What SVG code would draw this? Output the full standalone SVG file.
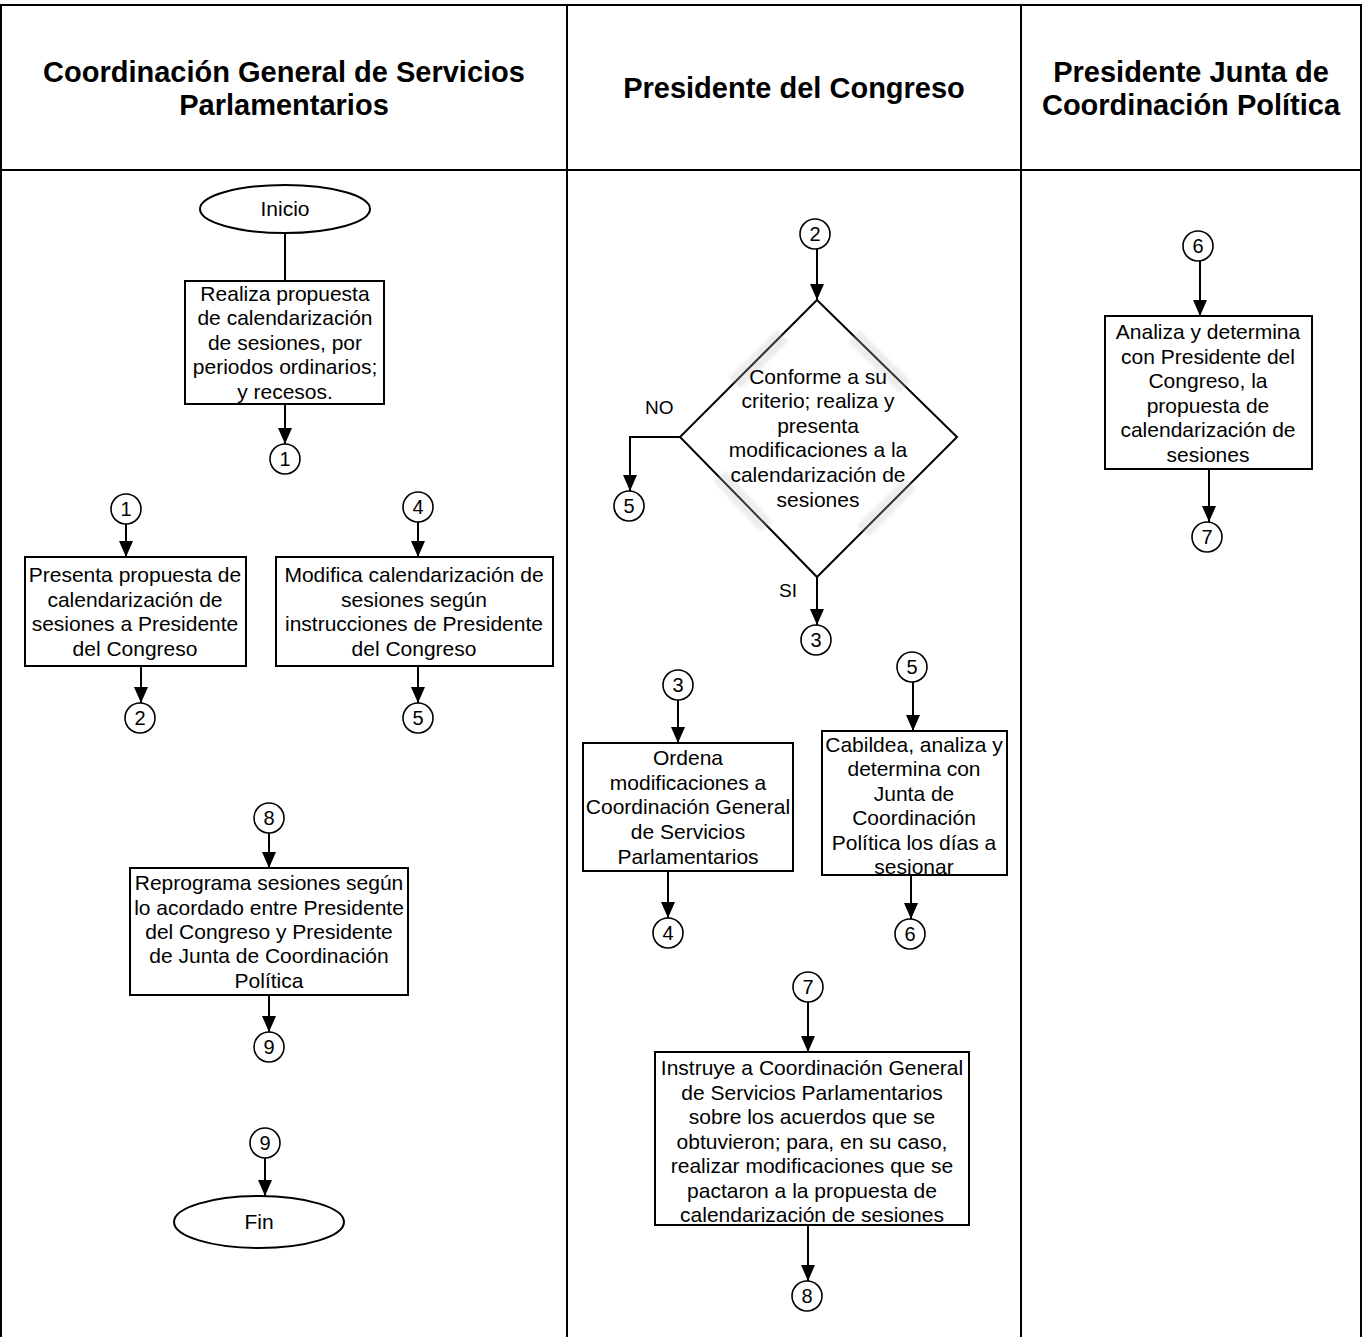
<svg xmlns="http://www.w3.org/2000/svg" width="1362" height="1337" viewBox="0 0 1362 1337">
<defs>
<marker id="arr" viewBox="0 0 16 14" refX="16" refY="7" markerWidth="16" markerHeight="14" markerUnits="userSpaceOnUse" orient="auto">
<path d="M0,0 L16,7 L0,14 z" fill="#000"/>
</marker>
<filter id="fuzz" x="-20%" y="-20%" width="140%" height="140%">
<feGaussianBlur stdDeviation="1.6"/>
</filter>
<clipPath id="cabClip"><rect x="822" y="731" width="185" height="144"/></clipPath>
<style>
.frame{fill:none;stroke:#000;stroke-width:2}
.box{fill:#fff;stroke:#000;stroke-width:2}
.conn{fill:#fff;stroke:#000;stroke-width:1.6}
.edge{fill:none;stroke:#000;stroke-width:2}
.arrow{fill:none;stroke:#000;stroke-width:2;marker-end:url(#arr)}
.hdr{font-family:"Liberation Sans",Arial,sans-serif;font-size:29px;font-weight:bold;text-anchor:middle;fill:#000}
.t{font-family:"Liberation Sans",Arial,sans-serif;font-size:21px;text-anchor:middle;fill:#000}
.n{font-family:"Liberation Sans",Arial,sans-serif;font-size:20px;text-anchor:middle;fill:#000}
.lbl{font-family:"Liberation Sans",Arial,sans-serif;font-size:19px;fill:#000}
.fz{stroke:#bdbdbd;stroke-width:16;stroke-dasharray:2 2;fill:none;opacity:0.55;filter:url(#fuzz)}
</style>
</defs>

<g id="frame">
<rect x="0" y="0" width="1362" height="1337" fill="#fff"/>
<path class="frame" d="M1,1337 V5 H1361 V1337 M567,5 V1337 M1021,5 V1337 M1,170 H1361"/>
</g>

<g id="headers">
<text class="hdr" x="284" y="82">Coordinación General de Servicios</text>
<text class="hdr" x="284" y="115">Parlamentarios</text>
<text class="hdr" x="794" y="98">Presidente del Congreso</text>
<text class="hdr" x="1191" y="82">Presidente Junta de</text>
<text class="hdr" x="1191" y="115">Coordinación Política</text>
</g>

<g id="connectors">
<line class="edge" x1="285" y1="233" x2="285" y2="281"/>
<line class="arrow" x1="285" y1="404" x2="285" y2="444"/>
<line class="arrow" x1="126" y1="524" x2="126" y2="557"/>
<line class="arrow" x1="141" y1="666" x2="141" y2="703"/>
<line class="arrow" x1="418" y1="522" x2="418" y2="557"/>
<line class="arrow" x1="418" y1="666" x2="418" y2="703"/>
<line class="arrow" x1="269" y1="833" x2="269" y2="868"/>
<line class="arrow" x1="269" y1="995" x2="269" y2="1032"/>
<line class="arrow" x1="265" y1="1158" x2="265" y2="1196"/>
<line class="arrow" x1="817" y1="249" x2="817" y2="300"/>
<polyline class="arrow" points="680,437 630,437 630,491"/>
<line class="arrow" x1="817" y1="577" x2="817" y2="625"/>
<line class="arrow" x1="678" y1="700" x2="678" y2="743"/>
<line class="arrow" x1="668" y1="871" x2="668" y2="918"/>
<line class="arrow" x1="913" y1="682" x2="913" y2="731"/>
<line class="arrow" x1="911" y1="875" x2="911" y2="919"/>
<line class="arrow" x1="808" y1="1002" x2="808" y2="1052"/>
<line class="arrow" x1="808" y1="1225" x2="808" y2="1281"/>
<line class="arrow" x1="1200" y1="261" x2="1200" y2="316"/>
<line class="arrow" x1="1209" y1="469" x2="1209" y2="522"/>
<text class="lbl" x="645" y="414">NO</text>
<text class="lbl" x="779" y="597">SI</text>
</g>

<g id="inicio">
<ellipse class="box" cx="285" cy="209" rx="85" ry="24"/>
<text class="t" x="285" y="216">Inicio</text>
</g>

<g id="realiza">
<rect class="box" x="185" y="281" width="199" height="123"/>
<text class="t" x="285" y="301">Realiza propuesta</text>
<text class="t" x="285" y="325">de calendarización</text>
<text class="t" x="285" y="350">de sesiones, por</text>
<text class="t" x="285" y="374">periodos ordinarios;</text>
<text class="t" x="285" y="399">y recesos.</text>
</g>

<g id="c1a"><circle class="conn" cx="285" cy="459" r="15"/><text class="n" x="285" y="466">1</text></g>
<g id="c1b"><circle class="conn" cx="126" cy="509" r="15"/><text class="n" x="126" y="516">1</text></g>

<g id="presenta">
<rect class="box" x="25" y="557" width="221" height="109"/>
<text class="t" x="135" y="582">Presenta propuesta de</text>
<text class="t" x="135" y="607">calendarización de</text>
<text class="t" x="135" y="631">sesiones a Presidente</text>
<text class="t" x="135" y="656">del Congreso</text>
</g>
<g id="c2a"><circle class="conn" cx="140" cy="718" r="15"/><text class="n" x="140" y="725">2</text></g>

<g id="c4a"><circle class="conn" cx="418" cy="507" r="15"/><text class="n" x="418" y="514">4</text></g>
<g id="modifica">
<rect class="box" x="276" y="557" width="277" height="109"/>
<text class="t" x="414" y="582">Modifica calendarización de</text>
<text class="t" x="414" y="607">sesiones según</text>
<text class="t" x="414" y="631">instrucciones de Presidente</text>
<text class="t" x="414" y="656">del Congreso</text>
</g>
<g id="c5a"><circle class="conn" cx="418" cy="718" r="15"/><text class="n" x="418" y="725">5</text></g>

<g id="c8a"><circle class="conn" cx="269" cy="818" r="15"/><text class="n" x="269" y="825">8</text></g>
<g id="reprograma">
<rect class="box" x="130" y="868" width="278" height="127"/>
<text class="t" x="269" y="890">Reprograma sesiones según</text>
<text class="t" x="269" y="915">lo acordado entre Presidente</text>
<text class="t" x="269" y="939">del Congreso y Presidente</text>
<text class="t" x="269" y="963">de Junta de Coordinación</text>
<text class="t" x="269" y="988">Política</text>
</g>
<g id="c9a"><circle class="conn" cx="269" cy="1047" r="15"/><text class="n" x="269" y="1054">9</text></g>

<g id="c9b"><circle class="conn" cx="265" cy="1143" r="15"/><text class="n" x="265" y="1150">9</text></g>
<g id="fin">
<ellipse class="box" cx="259" cy="1222" rx="85" ry="26"/>
<text class="t" x="259" y="1229">Fin</text>
</g>

<g id="c2b"><circle class="conn" cx="815" cy="234" r="15"/><text class="n" x="815" y="241">2</text></g>
<g id="decision">
<polygon class="box" points="817,300 957,437 817,577 680,437"/>
<line class="fz" x1="782" y1="336" x2="735" y2="383"/>
<line class="fz" x1="855" y1="337" x2="905" y2="387"/>
<line class="fz" x1="720" y1="477" x2="767" y2="527"/>
<line class="fz" x1="910" y1="484" x2="862" y2="532"/>
<text class="t" x="818" y="384">Conforme a su</text>
<text class="t" x="818" y="408">criterio; realiza y</text>
<text class="t" x="818" y="433">presenta</text>
<text class="t" x="818" y="457">modificaciones a la</text>
<text class="t" x="818" y="482">calendarización de</text>
<text class="t" x="818" y="507">sesiones</text>
</g>
<g id="c5b"><circle class="conn" cx="629" cy="506" r="15"/><text class="n" x="629" y="513">5</text></g>
<g id="c3a"><circle class="conn" cx="816" cy="640" r="15"/><text class="n" x="816" y="647">3</text></g>

<g id="c3b"><circle class="conn" cx="678" cy="685" r="15"/><text class="n" x="678" y="692">3</text></g>
<g id="ordena">
<rect class="box" x="583" y="743" width="210" height="128"/>
<text class="t" x="688" y="765">Ordena</text>
<text class="t" x="688" y="790">modificaciones a</text>
<text class="t" x="688" y="814">Coordinación General</text>
<text class="t" x="688" y="839">de Servicios</text>
<text class="t" x="688" y="864">Parlamentarios</text>
</g>
<g id="c4b"><circle class="conn" cx="668" cy="933" r="15"/><text class="n" x="668" y="940">4</text></g>

<g id="c5c"><circle class="conn" cx="912" cy="667" r="15"/><text class="n" x="912" y="674">5</text></g>
<g id="cabildea">
<rect class="box" x="822" y="731" width="185" height="144"/>
<g clip-path="url(#cabClip)">
<text class="t" x="914" y="752">Cabildea, analiza y</text>
<text class="t" x="914" y="776">determina con</text>
<text class="t" x="914" y="801">Junta de</text>
<text class="t" x="914" y="825">Coordinación</text>
<text class="t" x="914" y="850">Política los días a</text>
<text class="t" x="914" y="874">sesionar</text>
</g>
<rect x="822" y="731" width="185" height="144" fill="none" stroke="#000" stroke-width="2"/>
</g>
<g id="c6a"><circle class="conn" cx="910" cy="934" r="15"/><text class="n" x="910" y="941">6</text></g>

<g id="c7a"><circle class="conn" cx="808" cy="987" r="15"/><text class="n" x="808" y="994">7</text></g>
<g id="instruye">
<rect class="box" x="655" y="1052" width="314" height="173"/>
<text class="t" x="812" y="1075">Instruye a Coordinación General</text>
<text class="t" x="812" y="1100">de Servicios Parlamentarios</text>
<text class="t" x="812" y="1124">sobre los acuerdos que se</text>
<text class="t" x="812" y="1149">obtuvieron; para, en su caso,</text>
<text class="t" x="812" y="1173">realizar modificaciones que se</text>
<text class="t" x="812" y="1198">pactaron a la propuesta de</text>
<text class="t" x="812" y="1222">calendarización de sesiones</text>
</g>
<g id="c8b"><circle class="conn" cx="807" cy="1296" r="15"/><text class="n" x="807" y="1303">8</text></g>

<g id="c6b"><circle class="conn" cx="1198" cy="246" r="15"/><text class="n" x="1198" y="253">6</text></g>
<g id="analiza">
<rect class="box" x="1105" y="316" width="207" height="153"/>
<text class="t" x="1208" y="339">Analiza y determina</text>
<text class="t" x="1208" y="364">con Presidente del</text>
<text class="t" x="1208" y="388">Congreso, la</text>
<text class="t" x="1208" y="413">propuesta de</text>
<text class="t" x="1208" y="437">calendarización de</text>
<text class="t" x="1208" y="462">sesiones</text>
</g>
<g id="c7b"><circle class="conn" cx="1207" cy="537" r="15"/><text class="n" x="1207" y="544">7</text></g>
</svg>
